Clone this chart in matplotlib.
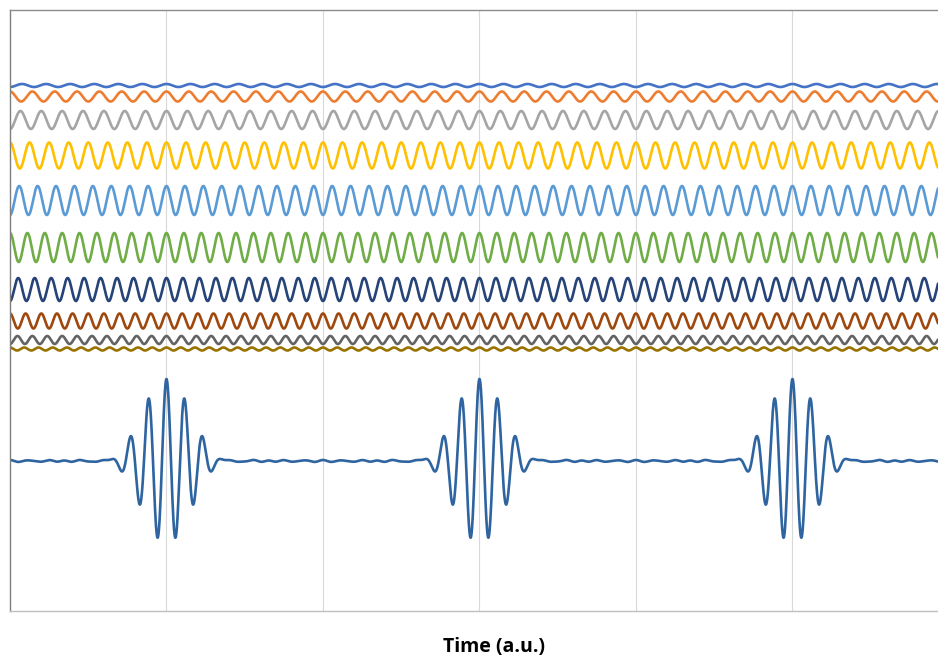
import numpy as np
import matplotlib.pyplot as plt

# ten cosine components, top to bottom
colors = ['#4472C4', '#ED7D31', '#A5A5A5', '#FFC000', '#5B9BD5',
          '#70AD47', '#264478', '#9E480E', '#636363', '#997300']
freqs = [6.5, 7.0, 7.5, 8.0, 8.5, 9.0, 9.5, 10.0, 10.5, 11.0]
amps = [0.15, 0.5, 0.9, 1.3, 1.45, 1.45, 1.15, 0.75, 0.4, 0.15]
offsets = [37.55, 36.45, 34.1, 30.55, 26.05, 21.35, 17.15, 14.0, 12.1, 11.2]
t0 = 1.0          # all components in phase here
packet_offset = 0.0
packet_color = '#2E64A0'

t = np.linspace(0, 5.93, 4000)

fig = plt.figure(figsize=(9.38, 6.57), dpi=100)
ax = fig.add_axes([10/938, 46/657, 928/938, 601/657])

total = np.zeros_like(t)
for c, f, a, off in zip(colors, freqs, amps, offsets):
    y = a*np.cos(2*np.pi*f*(t - t0))
    total += y
    ax.plot(t, y + off, color=c, lw=1.9, solid_capstyle='round')

ax.plot(t, total + packet_offset, color=packet_color, lw=1.9)

ax.set_xlim(0, 5.93)
ax.set_ylim(-15, 45.1)
ax.set_xticks([1, 2, 3, 4, 5])
ax.set_yticks([])
ax.tick_params(axis='x', length=0, labelbottom=False)
ax.grid(axis='x', color='#D9D9D9', lw=0.8)
ax.set_axisbelow(True)

ax.spines['right'].set_visible(False)
ax.spines['left'].set_color('#7F7F7F')
ax.spines['top'].set_color('#8C8C8C')
ax.spines['bottom'].set_color('#BFBFBF')
for s in ax.spines.values():
    s.set_linewidth(1.0)

fig.text(494/938, 1 - 647/657, 'Time (a.u.)', ha='center', va='center',
         fontsize=14, fontweight='bold', family='Open Sans')

fig.savefig('out.png', dpi=100)
plt.close()
